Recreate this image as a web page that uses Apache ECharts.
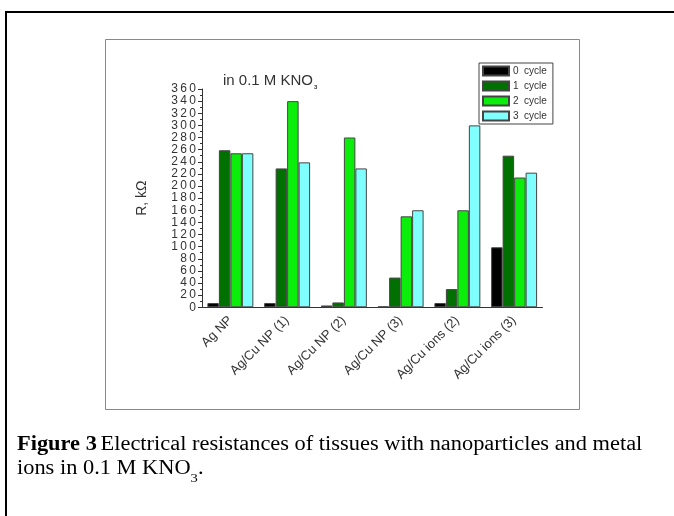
<!DOCTYPE html>
<html>
<head>
<meta charset="utf-8">
<script src="https://cdn.jsdelivr.net/npm/echarts@6/dist/echarts.min.js"></script>
<style>
  html, body { margin: 0; padding: 0; background: #fff; }
  #chart { width: 674px; height: 516px; }
</style>
</head>
<body>
<div id="chart"></div>
<script>
const categories = ['Ag NP', 'Ag/Cu NP (1)', 'Ag/Cu NP (2)', 'Ag/Cu NP (3)', 'Ag/Cu ions (2)', 'Ag/Cu ions (3)']
const seriesNames = ['0  cycle', '1  cycle', '2  cycle', '3  cycle']
const cycle0 = [7, 7, 3, 1.5, 7, 99]
const cycle1 = [259, 229, 8, 49, 30, 250]
const cycle2 = [254, 340, 280, 150, 160, 214]
const cycle3 = [254, 239, 229, 160, 300, 222]
const colors = ['#000000', '#007000', '#0bee0b', '#80ffff']

const myChart = echarts.init(document.getElementById('chart'))
const values = [cycle0, cycle1, cycle2, cycle3]

// the original labels are drawn a bit spread out, so put a thin space between characters
const spread = s => String(s).split('').join('\u2009')
const sans = 'Arial, "Liberation Sans"'
const serif = '"Liberation Serif", "Times New Roman", serif'

const option = {
  animation: false,
  backgroundColor: '#fff',
  title: {
    text: '{a|in 0.1 M KNO}{s|3}',
    left: 218,
    top: 67,
    textStyle: {
      rich: {
        a: { fontFamily: sans, fontSize: 15, fontWeight: 'normal', color: '#333' },
        s: { fontFamily: sans, fontSize: 6, color: '#333', verticalAlign: 'bottom', padding: [12, 0, 0, 1] }
      }
    }
  },
  legend: {
    orient: 'vertical',
    left: 479,
    top: 63,
    padding: [2.5, 6, 2.5, 3],
    itemGap: 4,
    itemWidth: 26,
    itemHeight: 9,
    icon: 'rect',
    borderColor: '#444',
    borderWidth: 1,
    textStyle: { fontFamily: sans, fontSize: 10, lineHeight: 9, color: '#333', padding: [0, 0, 0, -1] },
    data: seriesNames
  },
  grid: {
    left: 202,
    right: 131.5,
    top: 89,
    bottom: 208.7
  },
  xAxis: [{
    type: 'category',
    data: categories,
    axisLine: { lineStyle: { color: '#333', width: 1 } },
    axisTick: { alignWithLabel: true, length: 5, lineStyle: { color: '#333' } },
    axisLabel: { rotate: 45, margin: 11, interval: 0, fontFamily: sans, fontSize: 13, color: '#333' }
  }, {
    type: 'category',
    data: categories,
    position: 'bottom',
    axisLine: { show: false },
    axisTick: { length: 3, lineStyle: { color: '#333' } },
    axisLabel: { show: false }
  }],
  yAxis: {
    type: 'value',
    min: 0,
    max: 360,
    interval: 20,
    name: 'R, kΩ',
    nameLocation: 'middle',
    nameGap: 53,
    nameRotate: 90,
    nameTextStyle: { fontFamily: sans, fontSize: 14, color: '#333' },
    axisLine: { show: true, lineStyle: { color: '#333' } },
    axisTick: { show: true, length: 4, lineStyle: { color: '#333' } },
    minorTick: { show: true, splitNumber: 2, length: 2, lineStyle: { color: '#333' } },
    splitLine: { show: false },
    axisLabel: { margin: 6, fontFamily: sans, fontSize: 12, color: '#333', formatter: v => spread(v) }
  },
  series: seriesNames.map((name, i) => ({
    name: name,
    type: 'bar',
    barGap: '0%',
    barCategoryGap: '19%',
    data: values[i],
    itemStyle: { color: colors[i], borderColor: '#444', borderWidth: 1 }
  })),
  graphic: [
    {
      type: 'rect',
      shape: { x: 6, y: 12, width: 720, height: 560 },
      style: { fill: 'none', stroke: '#000', lineWidth: 2 },
      silent: true
    },
    {
      type: 'rect',
      shape: { x: 105.5, y: 39.5, width: 474, height: 370 },
      style: { fill: 'none', stroke: '#888', lineWidth: 1 },
      silent: true
    },
    {
      type: 'text',
      x: 17,
      y: 433,
      scaleX: 1.12,
      style: {
        text: '{b|Figure 3} {t|Electrical resistances of tissues with nanoparticles and metal}\n{t|ions in 0.1 M KNO}{s|3}{t|.}',
        rich: {
          b: { fontFamily: serif, fontSize: 20, fontWeight: 'bold', fill: '#000', lineHeight: 24 },
          t: { fontFamily: serif, fontSize: 20, fill: '#000', lineHeight: 24 },
          s: { fontFamily: serif, fontSize: 13, fill: '#000', lineHeight: 24, verticalAlign: 'bottom', padding: [0, 0, -4, 0] }
        }
      }
    }
  ]
}
myChart.setOption(option)
</script>
</body>
</html>
